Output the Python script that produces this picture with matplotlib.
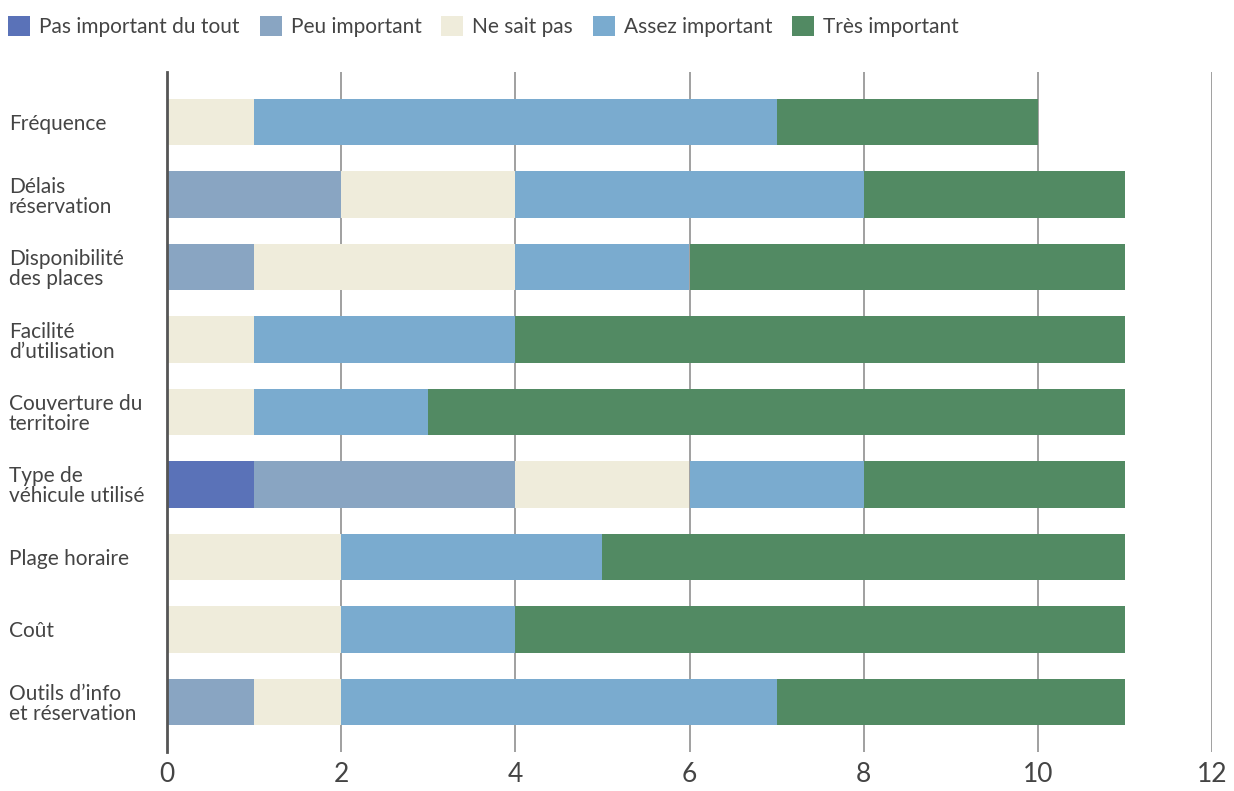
import matplotlib.pyplot as plt
import numpy as np

# Categories (top to bottom)
categories = ['Fréquence', 'Délais\nréservation', 'Disponibilité\ndes places',
              'Facilité\nd\u2019utilisation', 'Couverture du\nterritoire',
              'Type de\nvéhicule utilisé', 'Plage horaire', 'Coût',
              'Outils d\u2019info\net réservation']

# Series values
pas_important = [0, 0, 0, 0, 0, 1, 0, 0, 0]
peu_important = [0, 2, 1, 0, 0, 3, 0, 0, 1]
ne_sait_pas = [1, 2, 3, 1, 1, 2, 2, 2, 1]
assez_important = [6, 4, 2, 3, 2, 2, 3, 2, 5]
tres_important = [3, 3, 5, 7, 8, 3, 6, 7, 4]

series = [
    ('Pas important du tout', pas_important, '#5a72b8'),
    ('Peu important', peu_important, '#89a5c2'),
    ('Ne sait pas', ne_sait_pas, '#efecdb'),
    ('Assez important', assez_important, '#7aabcf'),
    ('Très important', tres_important, '#528a63'),
]

plt.rcParams['font.family'] = ['Lato', 'DejaVu Sans']
text_color = '#444444'

fig = plt.figure(figsize=(12.34, 7.91), dpi=100)
ax = fig.add_axes([167 / 1234, 1 - 752 / 791, (1212 - 167) / 1234, 680 / 791])

y = np.arange(len(categories))
left = np.zeros(len(categories))
for name, vals, color in series:
    ax.barh(y, vals, left=left, height=0.635, color=color, label=name, zorder=2)
    left += np.array(vals)

ax.set_xlim(0, 12)
ax.set_ylim(len(categories) - 1 + 0.69, -0.69)
ax.set_xticks(range(0, 13, 2))
ax.xaxis.grid(True, color='#999999', linewidth=1.3, zorder=0)
ax.set_axisbelow(True)

for s in ['top', 'right', 'bottom']:
    ax.spines[s].set_visible(False)
ax.spines['left'].set_color('#555555')
ax.spines['left'].set_linewidth(2)

ax.tick_params(axis='x', length=0, labelsize=19, labelcolor=text_color, pad=7)
ax.tick_params(axis='y', length=0, labelsize=15, labelcolor=text_color, pad=114)
ax.set_yticks(y)
ax.set_yticklabels(categories, ha='left', linespacing=1.0)

handles, labels = ax.get_legend_handles_labels()
leg = fig.legend(handles, labels, loc='upper left', bbox_to_anchor=(0.0, 1 - 8 / 791),
                 ncol=5, frameon=False, fontsize=15, handlelength=1.06,
                 handleheight=1.06, handletextpad=0.43, columnspacing=0.95,
                 borderpad=0.15, borderaxespad=0.25)
for t in leg.get_texts():
    t.set_color(text_color)

fig.savefig('out.png', dpi=100)
